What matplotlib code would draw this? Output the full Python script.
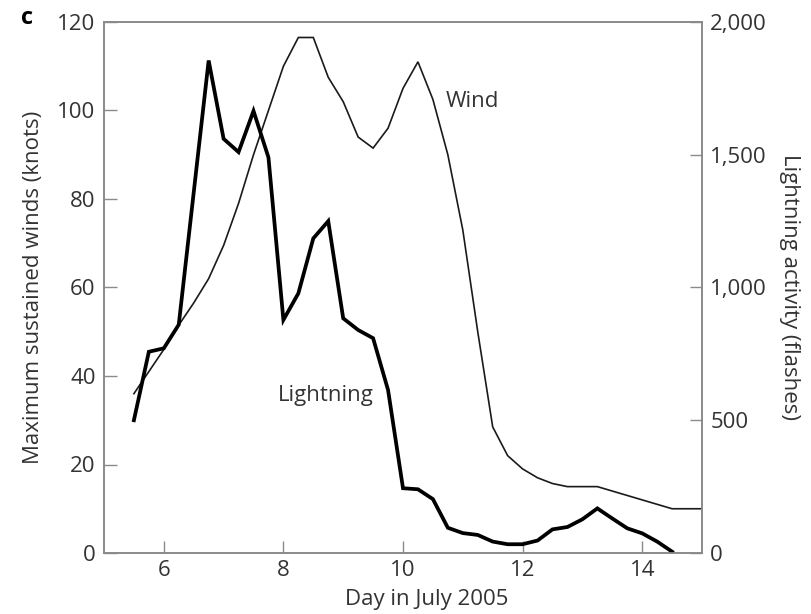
import matplotlib
matplotlib.use("Agg")
import matplotlib.pyplot as plt
from matplotlib.ticker import FuncFormatter

# ---- data ----
wind_days = [5.5, 5.75, 6.0, 6.25, 6.5, 6.75, 7.0, 7.25, 7.5, 7.75, 8.0, 8.25, 8.5,
             8.75, 9.0, 9.25, 9.5, 9.75, 10.0, 10.25, 10.5, 10.75, 11.0, 11.25, 11.5,
             11.75, 12.0, 12.25, 12.5, 12.75, 13.0, 13.25, 13.5, 13.75, 14.0, 14.25,
             14.5, 14.75, 15.0]
wind_knots = [36, 41, 46, 51.5, 56.5, 62, 69.5, 79, 90, 100, 110, 116.5, 116.5,
              107.5, 102, 94, 91.5, 96, 105, 111, 102.5, 90, 73, 50, 28.5,
              22, 19, 17, 15.7, 15, 15, 15, 14, 13, 12, 11,
              10, 10, 10]

light_days = [5.5, 5.75, 6.0, 6.25, 6.75, 7.0, 7.25, 7.5, 7.75, 8.0, 8.25, 8.5, 8.75,
              9.0, 9.25, 9.5, 9.75, 10.0, 10.25, 10.5, 10.75, 11.0, 11.25, 11.5,
              11.75, 12.0, 12.25, 12.5, 12.75, 13.0, 13.25, 13.5, 13.75, 14.0,
              14.25, 14.5]
light_flashes = [500, 758, 771, 860, 1855, 1560, 1510, 1665, 1490, 878, 978, 1185, 1250,
                 884, 840, 809, 614, 244, 240, 203, 95, 75, 68, 43,
                 33, 33, 47, 89, 98, 127, 168, 130, 93, 74,
                 43, 5]

x_ticks = [6, 8, 10, 12, 14]
left_ticks = [0, 20, 40, 60, 80, 100, 120]
right_ticks = [0, 500, 1000, 1500, 2000]

plt.rcParams['font.family'] = ['Open Sans', 'DejaVu Sans']
txt = '#333333'
spine_c = '#8a8a8a'
FS = 16

fig = plt.figure(figsize=(8.11, 6.14), dpi=100)
ax = fig.add_axes([104/811, 61/614, 598/811, 531/614])
ax2 = ax.twinx()

ax.plot(wind_days, wind_knots, color='#1a1a1a', lw=1.2, solid_joinstyle='miter')
ax2.plot(light_days, light_flashes, color='black', lw=2.7, solid_joinstyle='miter')

ax.set_xlim(5, 15)
ax.set_ylim(0, 120)
ax2.set_ylim(0, 2000)
ax.set_xticks(x_ticks)
ax.set_yticks(left_ticks)
ax2.set_yticks(right_ticks)
ax2.yaxis.set_major_formatter(FuncFormatter(lambda v, p: f"{int(v):,}"))

for a in (ax, ax2):
    for s in a.spines.values():
        s.set_color(spine_c)
        s.set_linewidth(1.2)
    a.tick_params(direction='in', length=9, width=1.0, color=spine_c,
                  labelsize=FS, labelcolor=txt)
ax.tick_params(axis='y', pad=6)
ax.tick_params(axis='x', pad=5)
ax2.tick_params(axis='y', pad=6)

ax.set_xlabel('Day in July 2005', fontsize=FS, color=txt)
ax.xaxis.set_label_coords(0.54, -0.068)
ax.set_ylabel('Maximum sustained winds (knots)', fontsize=FS, color=txt)
ax.yaxis.set_label_coords(-0.10, 0.5)
ax2.set_ylabel('Lightning activity (flashes)', fontsize=FS, color=txt,
               rotation=270, va='center', ha='center')
ax2.yaxis.set_label_coords(1.147, 0.5)

ax.text(10.72, 102, 'Wind', fontsize=FS, color=txt, ha='left', va='center')
ax.text(7.9, 35.5, 'Lightning', fontsize=FS, color=txt, ha='left', va='center')
fig.text(21/811, 1 - 18/614, 'c', fontsize=17, fontweight='bold', color='black',
         ha='left', va='center')

fig.savefig('out.png', dpi=100)
